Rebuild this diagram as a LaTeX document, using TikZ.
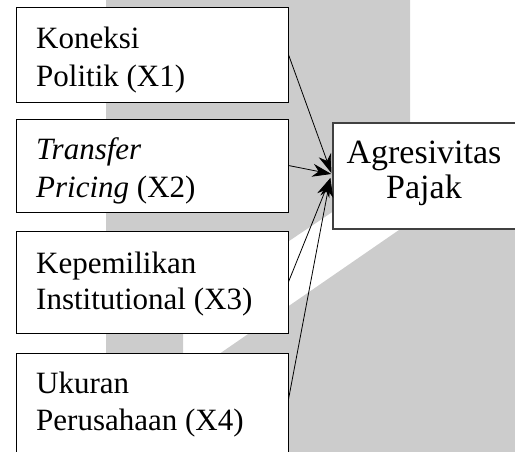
\documentclass[tikz,border=0pt]{standalone}
\usepackage{fontspec}
\setmainfont{Liberation Serif}
\usetikzlibrary{arrows.meta,calc}
\definecolor{wm}{RGB}{204,204,204}
\definecolor{rborder}{RGB}{64,64,64}
\begin{document}
\begin{tikzpicture}[x=1pt,y=-1pt,
  box/.style={draw=black,line width=0.9pt,fill=white,inner sep=0pt},
  rbox/.style={draw=rborder,line width=1.3pt,fill=white,inner sep=0pt},
  ltxt/.style={anchor=base west,inner sep=0pt,font=\fontsize{31}{36}\selectfont},
  rtxt/.style={anchor=base,inner sep=0pt,font=\fontsize{34}{36}\selectfont},
  conn/.style={line width=0.8pt,-{Stealth[length=19pt,width=13pt]}}]
\useasboundingbox (0,0) rectangle (515,452);
\clip (0,0) rectangle (515,452);
% watermark
\fill[wm] (106,0) -- (410,0) -- (410,160) -- (183,312) -- (183,452) -- (106,452) -- cycle;
\fill[wm] (77,452) -- (515,150) -- (515,452) -- cycle;
% boxes
\node[box,minimum width=272pt,minimum height=95pt] (b1) at (152,54.5) {};
\node[box,minimum width=272pt,minimum height=93pt] (b2) at (152,165.5) {};
\node[box,minimum width=272pt,minimum height=102pt] (b3) at (152,282) {};
\node[box,minimum width=272pt,minimum height=110pt] (b4) at (152,408) {};
\node[rbox,minimum width=187pt,minimum height=106pt] (r) at (426.5,176) {};
% texts
\node[ltxt] (t1a) at (36,49) {Koneksi};
\node[ltxt] (t1b) at (36,87) {Politik (X1)};
\node[ltxt] (t2a) at (36,160) {\itshape Transfer};
\node[ltxt] (t2b) at (36,197) {\textit{Pricing} (X2)};
\node[ltxt] (t3a) at (36,273) {Kepemilikan};
\node[ltxt] (t3b) at (36,309) {Institutional (X3)};
\node[ltxt] (t4a) at (36,393) {Ukuran};
\node[ltxt] (t4b) at (36,430) {Perusahaan (X4)};
\node[rtxt,text depth=0pt] (ra) at (424,164) {Agresivitas};
\node[rtxt] (rb) at (424,198) {Pajak};
% arrow end points
\coordinate (e1) at ($(r.west)+(-1,-3)$);
\coordinate (e2) at ($(r.west)+(-1,-2)$);
\coordinate (e3) at ($(r.west)+(-2,2)$);
\coordinate (e4) at ($(r.west)+(-2,2)$);
% connectors
\draw[conn] (b1.east) -- (e1);
\draw[conn] (b2.east) -- (e2);
\draw[conn] (b3.east) -- (e3);
\draw[conn] ($(b4.north east)+(0,47)$) -- (e4);
\end{tikzpicture}
\end{document}
